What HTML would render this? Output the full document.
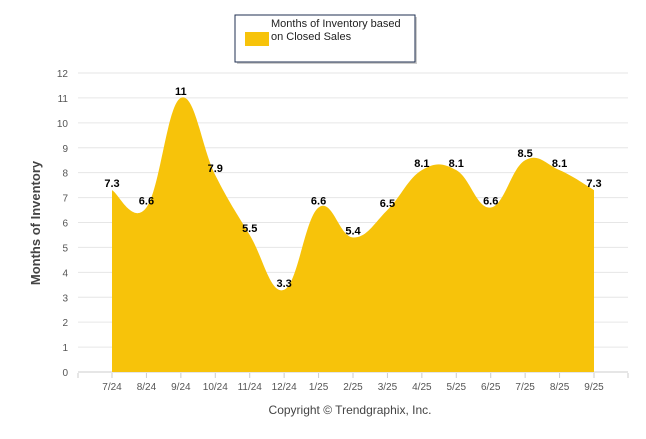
<!DOCTYPE html>
<html><head><meta charset="utf-8"><style>
body{margin:0;background:#fff;font-family:"Liberation Sans",sans-serif}
</style></head><body>
<svg width="646" height="434" xmlns="http://www.w3.org/2000/svg">
<g>
<rect x="237" y="17" width="180" height="47" fill="#999" opacity="0.5"/>
<rect x="235" y="15" width="180" height="47" fill="#fff" stroke="#1f2f50" stroke-width="1"/>
<rect x="245" y="32" width="24" height="14" fill="#f7c30a"/>
<text x="271" y="27" font-size="11" fill="#222">Months of Inventory based</text>
<text x="271" y="40" font-size="11" fill="#222">on Closed Sales</text>
</g>
<g id="grid"></g>
<g id="area"></g>
<g id="labels"></g>
<text transform="translate(40,223) rotate(-90)" text-anchor="middle" font-size="13" font-weight="bold" fill="#444">Months of Inventory</text>
<text x="350" y="414" text-anchor="middle" font-size="12" fill="#444">Copyright © Trendgraphix, Inc.</text>
</svg>
<script>
const categories=["7/24","8/24","9/24","10/24","11/24","12/24","1/25","2/25","3/25","4/25","5/25","6/25","7/25","8/25","9/25"];
const values=[7.3,6.6,11,7.9,5.5,3.3,6.6,5.4,6.5,8.1,8.1,6.6,8.5,8.1,7.3];
const yTicks=[0,1,2,3,4,5,6,7,8,9,10,11,12];
const NS="http://www.w3.org/2000/svg";
const x0=112,x1=594,yb=372,yt=73;
const X=i=>x0+i*(x1-x0)/(categories.length-1);
const Y=v=>yb-v*(yb-yt)/12;
function mk(t,a,p){const e=document.createElementNS(NS,t);for(const k in a)e.setAttribute(k,a[k]);p.appendChild(e);return e;}
const grid=document.getElementById('grid');
yTicks.forEach(v=>{
 const l=mk('line',{x1:78,x2:628,y1:Y(v),y2:Y(v),stroke:v===0?'#ccc':'#e6e6e6'},grid);
 
 
 const t=mk('text',{x:68,y:Y(v)+4,'text-anchor':'end','font-size':'10',fill:'#555'},grid);t.textContent=v;
 
 
});
mk('line',{x1:78,x2:78,y1:373,y2:378,stroke:'#ccc'},grid);
categories.forEach((c,i)=>{
 mk('line',{x1:X(i),x2:X(i),y1:373,y2:378,stroke:'#ccc'},grid);
 const t=mk('text',{x:X(i),y:390,'text-anchor':'middle','font-size':'10',fill:'#555'},grid);t.textContent=c;
 
 
});
mk('line',{x1:628,x2:628,y1:373,y2:378,stroke:'#ccc'},grid);
const pts=values.map((v,i)=>[X(i),Y(v)]);
let d=`M${pts[0][0]},${yb} L${pts[0][0]},${pts[0][1]}`;
const s=0.2;
for(let i=0;i<pts.length-1;i++){
 const p0=pts[Math.max(i-1,0)],p1=pts[i],p2=pts[i+1],p3=pts[Math.min(i+2,pts.length-1)];
 const c1=[p1[0]+(p2[0]-p0[0])*s,p1[1]+(p2[1]-p0[1])*s];
 const c2=[p2[0]-(p3[0]-p1[0])*s,p2[1]-(p3[1]-p1[1])*s];
 d+=` C${c1[0]},${c1[1]} ${c2[0]},${c2[1]} ${p2[0]},${p2[1]}`;
}
d+=` L${pts[pts.length-1][0]},${yb} Z`;
const a=mk('path',{d:d,fill:'#f7c30a'},document.getElementById('area'));


const lab=document.getElementById('labels');
values.forEach((v,i)=>{
 const t=mk('text',{x:X(i),y:Y(v)-3,'text-anchor':'middle','font-size':'11','font-weight':'bold',fill:'#000'},lab);
 t.textContent=v;
 
 
});
</script>
</body></html>
